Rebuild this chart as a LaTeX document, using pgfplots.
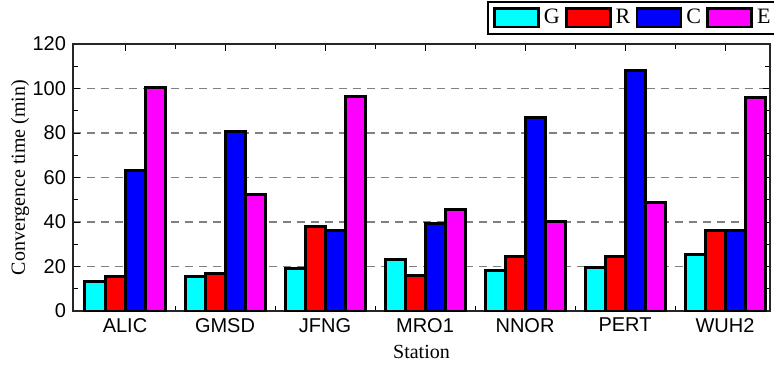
\documentclass[border=0pt]{standalone}
\usepackage{pgfplots}
\pgfplotsset{compat=1.18}
\usepackage{fontspec}
\setmainfont{Liberation Serif}
\newfontfamily\arialfont{Liberation Sans}
\definecolor{cG}{RGB}{0,255,255}
\definecolor{cR}{RGB}{255,0,0}
\definecolor{cC}{RGB}{0,0,255}
\definecolor{cE}{RGB}{255,0,255}
\pgfplotsset{
  boxleg/.style={legend image code/.code={\draw[##1,line width=1.4pt] (0pt,-4.6pt) rectangle (22pt,4.6pt);}},
  barst/.style={draw=black, line width=1.5pt, boxleg}
}
\begin{document}
\begin{tikzpicture}
\begin{axis}[
  scale only axis, width=348.5pt, height=133.5pt,
  ybar=0pt, bar width=10pt,
  xmin=-0.52, xmax=6.45, ymin=0, ymax=120,
  xtick={0,...,6}, xticklabels={ALIC,GMSD,JFNG,MRO1,NNOR,PERT,WUH2},
  minor xtick={0.5,1.5,...,5.5},
  ytick={0,20,...,120}, minor ytick={10,30,...,110},
  tick align=inside,
  major tick length=3.5pt, minor tick length=2.5pt,
  tick style={black, line width=0.5pt},
  axis line style={line width=0.6pt, black!85},
  ymajorgrids,
  major grid style={gray, line width=0.6pt, dash pattern=on 4pt off 3pt},
  tick label style={font=\arialfont\fontsize{10}{12}\selectfont},
  /pgf/number format/assume math mode=true,
  xlabel={Station}, ylabel={Convergence time (min)},
  label style={font=\fontsize{10}{12}\selectfont},
  every axis y label/.style={at={(axis description cs:-0.076,0.5)}, rotate=90, anchor=center},
  every axis x label/.style={at={(axis description cs:0.5,-0.1536)}, anchor=center},
  legend style={at={(rel axis cs:0.594,1)}, anchor=south west, yshift=4.5pt,
    legend columns=4, draw=black, line width=1pt, inner xsep=2.5pt, inner ysep=1.7pt,
    font=\fontsize{11}{13}\selectfont,
    /tikz/every even column/.append style={column sep=0.6pt}},
]
\addplot[fill=cG, barst] coordinates {(0,13.3) (1,15.3) (2,19.3) (3,23.3) (4,18.4) (5,19.7) (6,25.4)};
\addplot[fill=cR, barst] coordinates {(0,15.3) (1,16.9) (2,38.2) (3,15.8) (4,24.4) (5,24.4) (6,36.4)};
\addplot[fill=cC, barst] coordinates {(0,63.3) (1,80.9) (2,36.4) (3,39.4) (4,86.9) (5,108.0) (6,36.0)};
\addplot[fill=cE, barst] coordinates {(0,100.3) (1,52.3) (2,96.2) (3,45.4) (4,40.3) (5,48.9) (6,95.8)};
\legend{G,R,C,E}
\end{axis}
\pgfresetboundingbox
\path[use as bounding box] ([xshift=-36.5pt,yshift=-27pt]current axis.south west) rectangle ++(387pt,182.5pt);
\end{tikzpicture}
\end{document}
